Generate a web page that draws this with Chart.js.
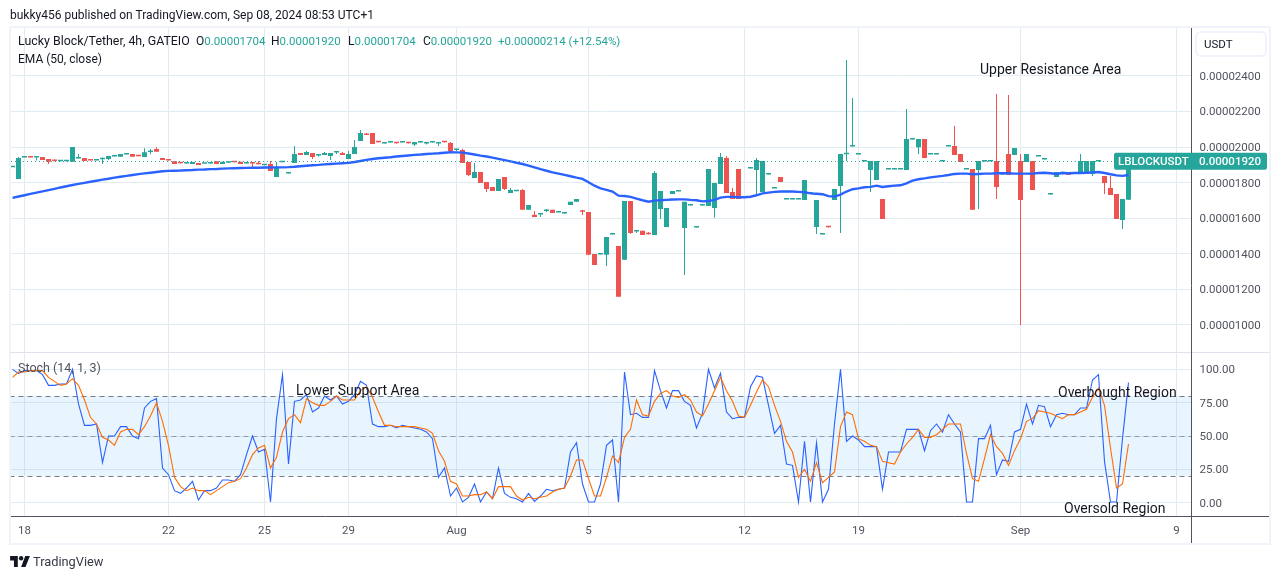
<!DOCTYPE html>
<html lang="en">
<head>
<meta charset="UTF-8">
<title>Lucky Block/Tether, 4h, GATEIO</title>
<script src="https://cdn.jsdelivr.net/npm/chart.js"></script>
<style>
    html, body { margin: 0; padding: 0; background: #fff; width: 1281px; height: 579px; overflow: hidden; }
    body { position: relative; font-family: Roboto, sans-serif; color: #131722; }
    canvas { position: absolute; left: 0; top: 0; }
    .t { position: absolute; white-space: nowrap; line-height: 14px; font-size: 12px; }
    .up { color: #26a69a; font-size: 11.5px; }
    .gray { color: #50535e; }
    #unit { left: 1195px; top: 31px; width: 68px; height: 22px; border: 2px solid #f0f3fa; border-radius: 6px; line-height: 22px; text-indent: 7px; font-size: 11.5px; }
</style>
</head>
<body>
<canvas id="chart" width="1281" height="579"></canvas>

<div class="t" style="left:10px;top:8px">bukky456 published on TradingView.com, Sep 08, 2024 08:53 UTC+1</div>
<div class="t" style="left:18px;top:34px;font-size:12.4px">Lucky Block/Tether, 4h, GATEIO</div>
<div class="t" style="left:196px;top:34px">O<span class="up">0.00001704</span></div>
<div class="t" style="left:271px;top:34px">H<span class="up">0.00001920</span></div>
<div class="t" style="left:348px;top:34px">L<span class="up">0.00001704</span></div>
<div class="t" style="left:423px;top:34px">C<span class="up">0.00001920</span></div>
<div class="t up" style="left:498px;top:34px">+0.00000214 (+12.54%)</div>
<div class="t" style="left:18px;top:52px">EMA (50, close)</div>
<div class="t gray" style="left:18px;top:361px;font-size:12.5px">Stoch (14, 1, 3)</div>
<div class="t" id="unit">USDT</div>

<svg style="position:absolute;left:10px;top:556px" width="20" height="11" viewBox="0 0 36 20">
    <path fill="#131722" d="M14 20H7V8H0V0h14v20zM28 20h-8l7.5-20H36l-8 20z"/>
    <circle fill="#131722" cx="20" cy="4" r="4"/>
</svg>
<div class="t" style="left:33px;top:555px;font-size:12.8px;color:#363a45">TradingView</div>

<script>
    // prices are in units of 0.00000001 USDT
    const opens = [
        1886,1821,1941,1943,1941,1944,1933,1923,1921,1921,1918,1936,1939,1926,1924,1932,1933,1947,1946,1958,
        1961,1949,1944,1973,1989,1939,1926,1920,1910,1908,1905,1911,1906,1908,1920,1905,1912,1915,1918,1908,
        1908,1904,1898,1905,1832,1915,1852,1911,1967,1956,1967,1953,1956,1950,1969,1967,1933,1961,2034,2074,
        2079,2028,2020,2026,2022,2026,2022,2015,2026,2020,2026,2020,2028,2023,1983,1984,1916,1826,1860,1804,
        1776,1753,1832,1742,1752,1759,1647,1619,1621,1640,1647,1632,1627,1675,1692,1638,1635,1399,1396,1394,
        1509,1444,1366,1697,1526,1529,1511,1506,1652,1551,1736,1750,1545,1672,1548,1672,1669,1658,1793,1939,
        1748,1877,1715,1880,1871,1748,1846,1767,1832,1705,1705,1705,1703,1739,1551,1509,1550,1703,1781,1960,
        2003,1958,1919,1871,1815,1708,1874,1874,1874,1871,2043,1999,2045,1958,1958,1919,2003,2006,1961,1874,
        1877,1871,1919,1919,1922,1846,1961,1956,1922,1916,1922,1947,1930,1734,1832,1853,1860,1852,1854,1849,
        1849,1919,1838,1770,1736,1590,1704
    ];
    const highs = [
        1886,1944,1943,1943,1943,1944,1933,1929,1925,1925,2000,1961,1939,1926,1926,1942,1950,1949,1961,1960,
        1961,1949,1993,1989,1999,1939,1929,1920,1910,1910,1916,1911,1908,1910,1920,1918,1918,1915,1918,1910,
        1916,1922,1900,1922,1916,1917,1854,2006,1967,1978,1967,1955,1972,1967,1978,1972,1978,2040,2096,2079,
        2079,2028,2027,2028,2027,2028,2027,2029,2028,2027,2028,2029,2028,2029,1990,1990,1916,1911,1860,1804,
        1776,1821,1832,1770,1759,1765,1675,1641,1623,1652,1647,1634,1633,1692,1708,1648,1635,1399,1398,1495,
        1511,1444,1697,1697,1528,1529,1523,1866,1753,1658,1753,1752,1692,1674,1550,1674,1877,1798,1967,1950,
        1770,1877,1717,1882,1939,1922,1848,1769,1832,1707,1707,1707,1815,1741,1703,1511,1550,1765,1961,2489,
        2276,1960,1921,1922,1922,1708,1876,1876,1876,2214,2045,2045,2045,1960,1960,1921,2005,2119,1961,1876,
        1877,1922,1921,1921,2298,1848,2293,1995,1961,1961,1922,1949,1932,1736,1860,1855,1860,1854,1961,1922,
        1922,1921,1838,1838,1736,1708,1920
    ];
    const lows = [
        1886,1821,1941,1941,1924,1927,1905,1921,1920,1920,1918,1936,1922,1924,1924,1905,1927,1947,1946,1958,
        1946,1947,1944,1959,1974,1927,1924,1905,1908,1908,1905,1899,1906,1908,1905,1905,1912,1913,1905,1908,
        1890,1902,1898,1866,1832,1915,1852,1911,1956,1956,1933,1946,1956,1927,1961,1956,1933,1961,2034,2068,
        2017,2026,2020,2026,2020,2026,2020,2006,2026,2015,2026,2006,2026,1978,1977,1911,1838,1826,1798,1748,
        1753,1753,1759,1742,1752,1647,1647,1607,1607,1635,1630,1632,1627,1675,1692,1618,1394,1337,1396,1332,
        1509,1158,1366,1512,1517,1506,1509,1506,1596,1551,1736,1750,1281,1672,1548,1672,1669,1602,1793,1742,
        1708,1708,1715,1880,1736,1748,1846,1767,1804,1705,1705,1705,1703,1739,1512,1509,1548,1703,1517,1922,
        2003,1958,1919,1748,1815,1596,1874,1874,1874,1871,2043,1961,1939,1958,1958,1919,2003,1956,1916,1874,
        1647,1652,1919,1919,1708,1846,1843,1956,1000,1916,1759,1947,1930,1734,1832,1853,1843,1852,1854,1849,
        1838,1919,1736,1731,1596,1540,1704
    ];
    const closes = [
        1886,1939,1942,1942,1942,1927,1918,1922,1922,1922,2000,1937,1922,1925,1925,1933,1950,1948,1961,1959,
        1946,1948,1971,1974,1974,1927,1925,1905,1909,1909,1916,1899,1907,1909,1905,1918,1918,1914,1905,1909,
        1907,1903,1899,1866,1888,1916,1853,1961,1956,1972,1944,1954,1967,1967,1970,1956,1961,2000,2079,2068,
        2017,2027,2021,2027,2021,2027,2021,2029,2027,2021,2027,2021,2027,1978,1984,1911,1843,1860,1798,1765,
        1753,1821,1765,1759,1753,1647,1675,1607,1622,1641,1630,1633,1628,1692,1708,1637,1394,1337,1397,1495,
        1510,1158,1697,1517,1527,1506,1510,1854,1753,1658,1753,1751,1692,1673,1549,1673,1877,1798,1944,1742,
        1708,1708,1716,1881,1927,1922,1847,1768,1804,1706,1706,1706,1815,1740,1703,1510,1549,1765,1961,1961,
        2004,1959,1920,1922,1922,1596,1875,1875,1875,2045,2044,2045,1939,1959,1959,1920,2004,1956,1916,1875,
        1647,1922,1920,1920,1776,1847,1843,1995,1703,1961,1759,1948,1931,1735,1860,1854,1843,1853,1922,1922,
        1922,1920,1798,1731,1596,1708,1920
    ];
    const ema50 = [
        1714,1722,1729,1737,1744,1751,1758,1765,1773,1780,1787,1793,1799,1805,1811,1817,1822,1828,1833,1838,
        1843,1848,1852,1856,1860,1864,1866,1867,1868,1870,1871,1873,1874,1876,1877,1879,1880,1881,1882,1883,
        1884,1884,1885,1885,1886,1886,1887,1889,1892,1895,1898,1900,1903,1905,1907,1909,1911,1916,1922,1928,
        1933,1937,1940,1943,1947,1950,1953,1956,1958,1961,1963,1965,1968,1971,1970,1969,1964,1958,1952,1947,
        1941,1934,1927,1920,1912,1905,1896,1886,1876,1867,1858,1851,1844,1836,1828,1821,1802,1783,1768,1759,
        1750,1727,1725,1720,1710,1701,1693,1699,1701,1703,1705,1706,1706,1703,1701,1695,1697,1703,1716,1720,
        1720,1718,1718,1721,1729,1740,1744,1748,1750,1750,1750,1748,1746,1740,1738,1735,1724,1722,1733,1750,
        1763,1768,1774,1776,1783,1776,1780,1783,1785,1796,1811,1819,1824,1830,1834,1838,1843,1849,1851,1851,
        1847,1849,1851,1851,1853,1853,1853,1851,1851,1851,1851,1854,1856,1853,1849,1854,1853,1854,1854,1856,
        1858,1860,1854,1847,1841,1838,1843
    ];
    const stochK = [
        100,97,99,99,99,96,88,88,89,89,100,74,58,58,59,30,50,50,57,57,
        50,48,71,76,78,26,21,9,7,11,16,2,9,9,11,17,17,16,21,36,
        50,38,40,0.5,63,96,29,76,77,81,68,71,80,77,80,74,76,81,91,88,
        59,57,57,58,56,58,57,56,55,53,48,19,26,5,11,0.5,4,14,0.5,8,
        3,26,7,4,3,0.5,7,1,5,10,9,10,11,38,45,14,0.5,0.5,14,43,
        47,0.5,98,66,67,64,64,99,84,71,84,84,76,73,56,67,100,86,97,68,
        63,64,64,87,95,94,73,52,58,29,28,0.5,46,0.5,45,0.5,10,59,100,46,
        50,47,42,42,42,10,38,38,38,55,55,55,39,54,59,53,66,59,53,0.5,
        0.5,48,48,58,21,32,31,53,55,74,59,73,72,57,66,67,66,66,71,71,
        92,96,31,0.5,0.5,48,90
    ];
    const stochD = [
        94,98,98,99,99,99,94,91,88,89,93,88,77,64,59,49,47,43,53,55,
        55,51,57,65,75,61,43,19,12,9,11,9,9,6,9,12,15,16,18,26,
        36,41,43,26,34,53,63,66,60,78,75,73,73,76,80,77,77,77,84,87,
        79,68,58,58,57,57,57,57,56,55,52,39,31,16,14,5,5,6,6,8,
        3,12,12,12,5,2,4,3,4,5,8,10,11,20,32,32,18,5,5,19,
        35,30,49,55,77,66,65,76,82,84,80,79,81,77,68,65,74,84,94,84,
        76,65,64,73,83,92,87,73,61,46,38,19,25,16,30,15,19,23,57,68,
        66,48,46,43,42,31,30,29,38,44,49,55,49,49,51,55,59,59,59,37,
        18,16,33,51,42,37,28,39,48,61,63,69,68,67,65,63,66,66,68,70,
        79,86,73,41,11,14,44
    ];
    const lastPrice = 1920;
    const priceTicks = [1000, 1200, 1400, 1600, 1800, 2000, 2200, 2400];
    const stochTicks = [0, 25, 50, 75, 100];
    const dateIndex = [2, 26, 42, 56, 74, 96, 122, 141, 168, 194];
    const dateNames = ['18', '22', '25', '29', 'Aug', '5', '12', '19', 'Sep', '9'];

    const green = '#26a69a';
    const red = '#ef5350';
    const gridColor = '#e1ecf2';
    const axisColor = '#50535e';
    const tickFont = { family: 'Roboto', size: 11.5 };
    // the empty first line of a y label pushes the text 1px down, as in the original
    const yTickFont = { family: 'Roboto', size: 11.5, lineHeight: '2px' };

    // 197 slots of 6px, the last ones stay empty on the right of the chart
    const slots = Array.from({ length: 197 }, (_, i) => i);
    const candleColors = closes.map((c, i) => (c >= opens[i] ? green : red));

    const notes = [
        { text: 'Upper Resistance Area', index: 161.25, value: 2428, axis: 'y' },
        { text: 'Lower Support Area', index: 47.25, value: 83.1, axis: 'stoch' },
        { text: 'Overbought Region', index: 174.25, value: 81.7, axis: 'stoch' },
        { text: 'Oversold Region', index: 175.25, value: -4.8, axis: 'stoch' }
    ];

    const panelPlugin = {
        id: 'panels',
        beforeDatasetsDraw(chart) {
            const { ctx, chartArea, scales } = chart;
            const s = scales.stoch;
            // stochastic band and its 80 / 50 / 20 lines
            ctx.save();
            ctx.fillStyle = 'rgba(33, 150, 243, 0.1)';
            ctx.fillRect(chartArea.left, s.getPixelForValue(80), chartArea.width, s.getPixelForValue(20) - s.getPixelForValue(80));
            ctx.setLineDash([5, 4]);
            ctx.lineWidth = 1;
            [[80, '#787b86'], [50, 'rgba(120,123,134,0.7)'], [20, '#787b86']].forEach(([v, color]) => {
                const y = Math.floor(s.getPixelForValue(v)) + 0.5;
                ctx.strokeStyle = color;
                ctx.beginPath();
                ctx.moveTo(chartArea.left, y);
                ctx.lineTo(chartArea.right, y);
                ctx.stroke();
            });
            ctx.restore();
        },
        afterDraw(chart) {
            const { ctx, chartArea, scales } = chart;
            const x = scales.x;
            const priceY = scales.y.getPixelForValue(lastPrice);
            ctx.save();

            // dotted line of the last price
            ctx.strokeStyle = green;
            ctx.lineWidth = 1;
            ctx.setLineDash([1, 3]);
            ctx.beginPath();
            ctx.moveTo(11, Math.floor(priceY) + 0.5);
            ctx.lineTo(1114, Math.floor(priceY) + 0.5);
            ctx.stroke();
            ctx.setLineDash([]);

            // frame and separators
            ctx.strokeStyle = '#f0f3fa';
            ctx.lineWidth = 2;
            ctx.strokeRect(10, 27, 1260, 517);
            ctx.lineWidth = 1;
            ctx.strokeStyle = '#e0e3eb';
            ctx.beginPath();
            ctx.moveTo(10, 352.5);
            ctx.lineTo(1269, 352.5);
            ctx.stroke();
            ctx.strokeStyle = axisColor;
            ctx.beginPath();
            ctx.moveTo(11, 516.5);
            ctx.lineTo(1269, 516.5);
            ctx.moveTo(1191.5, 28);
            ctx.lineTo(1191.5, 543);
            ctx.stroke();

            // last price label
            ctx.fillStyle = green;
            ctx.beginPath();
            ctx.roundRect(1114, priceY - 8.5, 153, 17, 2);
            ctx.fill();
            ctx.fillStyle = '#fff';
            ctx.font = '500 11.5px Roboto';
            ctx.textBaseline = 'middle';
            ctx.textAlign = 'left';
            ctx.fillText('LBLOCKUSDT', 1118, priceY + 0.5);
            ctx.fillText((lastPrice / 1e8).toFixed(8), 1199, priceY + 0.5);

            // text notes of the author
            ctx.fillStyle = '#131722';
            ctx.font = '14px Roboto';
            notes.forEach(n => {
                ctx.fillText(n.text, x.getPixelForValue(n.index), scales[n.axis].getPixelForValue(n.value));
            });
            ctx.restore();
        }
    };

    new Chart(document.getElementById('chart').getContext('2d'), {
        data: {
            labels: slots,
            datasets: [
                {
                    type: 'line', label: 'EMA (50, close)', data: ema50, yAxisID: 'y', order: 0,
                    borderColor: '#2962ff', borderWidth: 2.4, pointRadius: 0, tension: 0
                },
                {
                    type: 'bar', label: 'Body', data: opens.map((o, i) => [o, closes[i]]), yAxisID: 'y', order: 1,
                    backgroundColor: candleColors, barThickness: 5, minBarLength: 1.5, grouped: false, inflateAmount: 0
                },
                {
                    type: 'bar', label: 'Wick', data: lows.map((l, i) => [l, highs[i]]), yAxisID: 'y', order: 2,
                    backgroundColor: candleColors, barThickness: 1, grouped: false, inflateAmount: 0
                },
                {
                    type: 'line', label: '%D', data: stochD, yAxisID: 'stoch', order: 3,
                    borderColor: '#ff6d00', borderWidth: 1.1, pointRadius: 0, tension: 0
                },
                {
                    type: 'line', label: '%K', data: stochK, yAxisID: 'stoch', order: 4,
                    borderColor: '#2962ff', borderWidth: 1.1, pointRadius: 0, tension: 0
                }
            ]
        },
        options: {
            responsive: false,
            animation: false,
            layout: { padding: { left: 9.5, top: 27, right: 10, bottom: 35 } },
            plugins: { legend: { display: false }, tooltip: { enabled: false } },
            scales: {
                x: {
                    type: 'category',
                    offset: true,
                    border: { display: false },
                    grid: { color: gridColor, offset: false, drawTicks: false },
                    afterBuildTicks: scale => { scale.ticks = dateIndex.map(v => ({ value: v })); },
                    afterFit: scale => { scale.height = 28; },
                    ticks: {
                        autoSkip: false, maxRotation: 0, padding: 8, color: axisColor, font: tickFont,
                        callback: v => dateNames[dateIndex.indexOf(v)]
                    }
                },
                y: {
                    type: 'linear', position: 'right', stack: 'panes', stackWeight: 325,
                    min: 848, max: 2675,
                    border: { display: false },
                    grid: { color: gridColor, drawTicks: false },
                    afterBuildTicks: scale => { scale.ticks = priceTicks.map(v => ({ value: v })); },
                    afterFit: scale => { scale.width = 79.5; },
                    ticks: { padding: 8, color: axisColor, font: yTickFont, callback: v => ['', (v / 1e8).toFixed(8)] }
                },
                stoch: {
                    type: 'linear', position: 'right', stack: 'panes', stackWeight: 164,
                    min: -10, max: 113,
                    border: { display: false },
                    grid: { color: gridColor, drawTicks: false },
                    afterBuildTicks: scale => { scale.ticks = stochTicks.map(v => ({ value: v })); },
                    afterFit: scale => { scale.width = 79.5; },
                    ticks: { padding: 8, color: axisColor, font: yTickFont, callback: v => ['', v.toFixed(2)] }
                }
            }
        },
        plugins: [panelPlugin]
    });
</script>
</body>
</html>
